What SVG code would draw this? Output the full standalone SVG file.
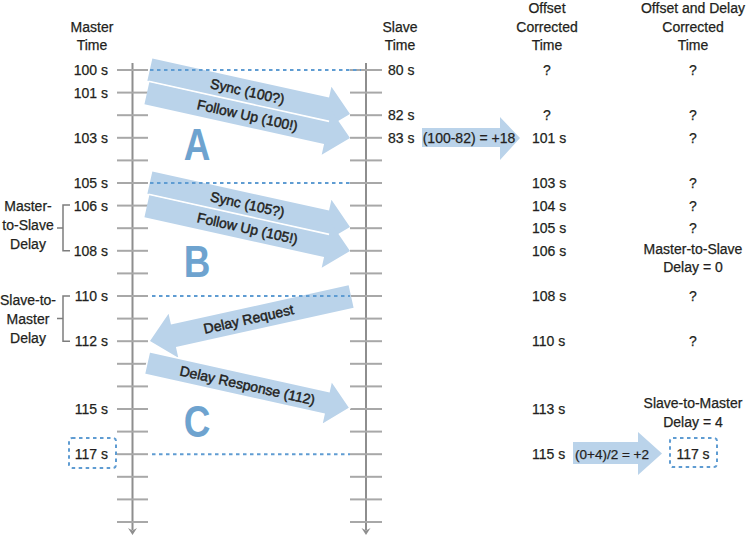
<svg xmlns="http://www.w3.org/2000/svg" width="749" height="538" viewBox="0 0 749 538">
<defs>
<style>
text{font-family:"Liberation Sans",Arial,sans-serif;font-size:14px;fill:#231f20;stroke:#231f20;stroke-width:0.25}
.r{text-anchor:end}
.m{text-anchor:middle}
.bt{stroke-width:0.45}
.big{font-weight:bold;font-size:45px;fill:#6ea3cf;stroke:none;text-anchor:middle}
.axis{stroke:#8e8e8e;stroke-width:2;fill:none}
.tick{stroke:#a8a8a8;stroke-width:2}
.dot{stroke:#5f9cd2;stroke-width:2;stroke-dasharray:3.5 3.5;fill:none}
.band{fill:#bad3ea}
.sep{stroke:#fff;stroke-width:1.6}
.br{stroke:#7d7d7d;stroke-width:1.5;fill:none}
</style>
</defs>
<rect width="749" height="538" fill="#fff"/>

<g id="headers">
<text class="m" x="92" y="31.5">Master</text>
<text class="m" x="92" y="50">Time</text>
<text class="m" x="400" y="31.5">Slave</text>
<text class="m" x="400" y="50">Time</text>
<text class="m" x="547" y="12.5">Offset</text>
<text class="m" x="547" y="31.5">Corrected</text>
<text class="m" x="547" y="50">Time</text>
<text class="m" x="693" y="12.5">Offset and Delay</text>
<text class="m" x="693" y="31.5">Corrected</text>
<text class="m" x="693" y="50">Time</text>
</g>

<g id="master-axis">
<line class="axis" x1="132.5" y1="63" x2="132.5" y2="530"/>
<polygon points="128,528 132.5,535 137,528 132.5,530.5" fill="#8e8e8e"/>
<g class="tick">
<line x1="117" y1="70" x2="148" y2="70"/><line x1="117" y1="92.6" x2="148" y2="92.6"/><line x1="117" y1="115.2" x2="148" y2="115.2"/><line x1="117" y1="137.8" x2="148" y2="137.8"/><line x1="117" y1="160.4" x2="148" y2="160.4"/><line x1="117" y1="183" x2="148" y2="183"/><line x1="117" y1="205.6" x2="148" y2="205.6"/><line x1="117" y1="228.2" x2="148" y2="228.2"/><line x1="117" y1="250.8" x2="148" y2="250.8"/><line x1="117" y1="273.4" x2="148" y2="273.4"/><line x1="117" y1="296" x2="148" y2="296"/><line x1="117" y1="318.6" x2="148" y2="318.6"/><line x1="117" y1="341.2" x2="148" y2="341.2"/><line x1="117" y1="363.8" x2="148" y2="363.8"/><line x1="117" y1="386.4" x2="148" y2="386.4"/><line x1="117" y1="409" x2="148" y2="409"/><line x1="117" y1="431.6" x2="148" y2="431.6"/><line x1="117" y1="454.2" x2="148" y2="454.2"/><line x1="117" y1="476.8" x2="148" y2="476.8"/><line x1="117" y1="499.4" x2="148" y2="499.4"/><line x1="117" y1="522" x2="148" y2="522"/>
</g>
<text class="r" x="108" y="75">100 s</text>
<text class="r" x="108" y="97.6">101 s</text>
<text class="r" x="108" y="142.8">103 s</text>
<text class="r" x="108" y="188">105 s</text>
<text class="r" x="108" y="210.6">106 s</text>
<text class="r" x="108" y="255.8">108 s</text>
<text class="r" x="108" y="301">110 s</text>
<text class="r" x="108" y="346.2">112 s</text>
<text class="r" x="108" y="414">115 s</text>
<text class="r" x="108" y="459.2">117 s</text>
<rect class="dot" x="69" y="438" width="47" height="30" rx="3"/>
</g>

<g id="slave-axis">
<line class="axis" x1="366" y1="63" x2="366" y2="530"/>
<polygon points="361.5,528 366,535 370.5,528 366,530.5" fill="#8e8e8e"/>
<g class="tick">
<line x1="350" y1="70" x2="382" y2="70"/><line x1="350" y1="92.6" x2="382" y2="92.6"/><line x1="350" y1="115.2" x2="382" y2="115.2"/><line x1="350" y1="137.8" x2="382" y2="137.8"/><line x1="350" y1="160.4" x2="382" y2="160.4"/><line x1="350" y1="183" x2="382" y2="183"/><line x1="350" y1="205.6" x2="382" y2="205.6"/><line x1="350" y1="228.2" x2="382" y2="228.2"/><line x1="350" y1="250.8" x2="382" y2="250.8"/><line x1="350" y1="273.4" x2="382" y2="273.4"/><line x1="350" y1="296" x2="382" y2="296"/><line x1="350" y1="318.6" x2="382" y2="318.6"/><line x1="350" y1="341.2" x2="382" y2="341.2"/><line x1="350" y1="363.8" x2="382" y2="363.8"/><line x1="350" y1="386.4" x2="382" y2="386.4"/><line x1="350" y1="409" x2="382" y2="409"/><line x1="350" y1="431.6" x2="382" y2="431.6"/><line x1="350" y1="454.2" x2="382" y2="454.2"/><line x1="350" y1="476.8" x2="382" y2="476.8"/><line x1="350" y1="499.4" x2="382" y2="499.4"/><line x1="350" y1="522" x2="382" y2="522"/>
</g>
<text x="388" y="75">80 s</text>
<text x="388" y="120.2">82 s</text>
<text x="388" y="142.8">83 s</text>
</g>

<g id="brackets">
<text class="m" x="28" y="211">Master-</text>
<text class="m" x="28" y="230">to-Slave</text>
<text class="m" x="28" y="249">Delay</text>
<path class="br" d="M70,205 H63 V250.8 H70 M57,228 H63"/>
<text class="m" x="28" y="305">Slave-to-</text>
<text class="m" x="28" y="324">Master</text>
<text class="m" x="28" y="343">Delay</text>
<path class="br" d="M70,296 H63 V341.2 H70 M57,318.6 H63"/>
</g>

<g id="connectors">
<g id="a-sync" transform="translate(350,114) rotate(12.5)">
<polygon class="band" points="-205,-11.5 -24,-11.5 -24,-22.5 0,0 -24,22.5 -24,11.5 -205,11.5"/>
<text class="m bt" x="-105" y="5">Sync (100?)</text>
</g>
<g id="a-follow" transform="translate(350,138) rotate(12.5)">
<polygon class="band" points="-208,-11.5 -24,-11.5 -24,-22.5 0,0 -24,22.5 -24,11.5 -208,11.5"/>
<line class="sep" x1="-209" y1="-11.7" x2="-24" y2="-11.7"/>
<text class="m bt" x="-105" y="5">Follow Up (100!)</text>
</g>
<g id="b-sync" transform="translate(350,227) rotate(12.5)">
<polygon class="band" points="-205,-11.5 -24,-11.5 -24,-22.5 0,0 -24,22.5 -24,11.5 -205,11.5"/>
<text class="m bt" x="-105" y="5">Sync (105?)</text>
</g>
<g id="b-follow" transform="translate(350,251) rotate(12.5)">
<polygon class="band" points="-208,-11.5 -24,-11.5 -24,-22.5 0,0 -24,22.5 -24,11.5 -208,11.5"/>
<line class="sep" x1="-209" y1="-11.7" x2="-24" y2="-11.7"/>
<text class="m bt" x="-105" y="5">Follow Up (105!)</text>
</g>
<g id="delay-request">
<polygon class="band" transform="translate(150,341) rotate(167.5)" points="-206,-11.5 -24,-11.5 -24,-22.5 0,0 -24,22.5 -24,11.5 -206,11.5"/>
<text class="m bt" transform="translate(248.6,319) rotate(-12.5)" x="0" y="5">Delay Request</text>
</g>
<g id="delay-response" transform="translate(350,408) rotate(12.5)">
<polygon class="band" stroke="#fff" stroke-width="1.5" points="-208,-11.5 -24,-11.5 -24,-22.5 0,0 -24,22.5 -24,11.5 -208,11.5"/>
<text class="m bt" x="-105" y="5">Delay Response (112)</text>
</g>
<g id="dotted-lines">
<line class="dot" x1="150" y1="70" x2="361" y2="70"/>
<line class="dot" x1="150" y1="183" x2="352" y2="183"/>
<line class="dot" x1="152" y1="296" x2="350" y2="296"/>
<line class="dot" x1="152" y1="454.2" x2="350" y2="454.2"/>
</g>
</g>

<g id="phase-labels">
<text class="big" transform="translate(197,160) scale(0.82,1)">A</text>
<text class="big" transform="translate(197,277) scale(0.82,1)">B</text>
<text class="big" transform="translate(197,437) scale(0.82,1)">C</text>
</g>

<g id="offset-calc">
<polygon class="band" points="422,128 500,128 500,117 520,138 500,160 500,147 422,147"/>
<text class="m" x="469" y="143">(100-82) = +18</text>
</g>

<g id="delay-calc">
<polygon class="band" points="573,442 638,442 638,432 662,453.5 638,475 638,464 573,464"/>
<text class="m" x="612" y="459" style="font-size:13.5px">(0+4)/2 = +2</text>
</g>

<g id="offset-column">
<text class="m" x="547" y="75">?</text>
<text class="m" x="547" y="120.2">?</text>
<text x="532" y="142.8">101 s</text>
<text x="532" y="188">103 s</text>
<text x="532" y="210.6">104 s</text>
<text x="532" y="233.2">105 s</text>
<text x="532" y="255.8">106 s</text>
<text x="532" y="301">108 s</text>
<text x="532" y="346.2">110 s</text>
<text x="532" y="414">113 s</text>
<text x="532" y="459.2">115 s</text>
</g>

<g id="delay-column">
<text class="m" x="693" y="75">?</text>
<text class="m" x="693" y="120.2">?</text>
<text class="m" x="693" y="142.8">?</text>
<text class="m" x="693" y="188">?</text>
<text class="m" x="693" y="210.6">?</text>
<text class="m" x="693" y="233.2">?</text>
<text class="m" x="693" y="254">Master-to-Slave</text>
<text class="m" x="693" y="272">Delay = 0</text>
<text class="m" x="693" y="301">?</text>
<text class="m" x="693" y="346.2">?</text>
<text class="m" x="693" y="408">Slave-to-Master</text>
<text class="m" x="693" y="427">Delay = 4</text>
<rect class="dot" x="670" y="438" width="47" height="29" rx="3"/>
<text class="m" x="693" y="459">117 s</text>
</g>
</svg>
